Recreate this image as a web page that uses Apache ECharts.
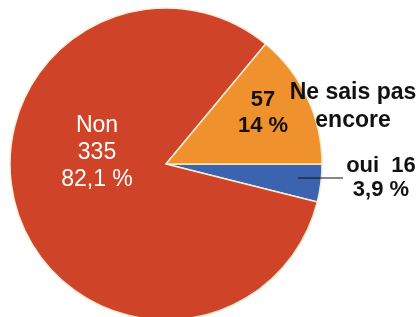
<!DOCTYPE html>
<html>
<head>
<meta charset="utf-8">
<script src="https://cdn.jsdelivr.net/npm/echarts@6/dist/echarts.min.js"></script>
<style>
  html, body { margin: 0; padding: 0; background: #fff; }
  #main { width: 418px; height: 317px; }
</style>
</head>
<body>
<div id="main"></div>
<script>
// données
var categories = ['oui', 'Non', 'Ne sais pas\nencore'];
var values = [16, 335, 57];
var pctLabels = ['3,9 %', '82,1 %', '14 %'];
var colors = ['#3C63AF', '#CF4428', '#EF922D'];

var myChart = echarts.init(document.getElementById('main'));

var labelPos = [
  { x: 381, y: 178 },
  { x: 97, y: 153 },
  { x: 263, y: 113 }
];

var option = {
  animation: false,
  // trait de rappel pour « oui »
  graphic: [{
    type: 'line',
    shape: { x1: 298, y1: 178, x2: 343, y2: 178 },
    style: { stroke: '#111', lineWidth: 1.2 },
    z: 10
  }],
  series: [
    {
      type: 'pie',
      center: [166, 164],
      radius: 156,
      startAngle: 0,
      clockwise: true,
      itemStyle: { borderColor: '#F4EBD3', borderWidth: 1.5 },
      label: {
        fontFamily: 'Liberation Sans',
        overflow: 'none'
      },
      labelLine: { show: false },
      labelLayout: function (params) {
        var p = labelPos[params.dataIndex];
        return { x: p.x, y: p.y, align: 'center', verticalAlign: 'middle' };
      },
      data: [
        {
          value: values[0], name: categories[0],
          itemStyle: { color: colors[0] },
          label: {
            position: 'inside', color: '#111', fontWeight: 'bold',
            fontSize: 22, lineHeight: 24,
            formatter: categories[0] + '  ' + values[0] + '\n' + pctLabels[0]
          }
        },
        {
          value: values[1], name: categories[1],
          itemStyle: { color: colors[1] },
          label: {
            position: 'inside', color: '#fff',
            fontSize: 23, lineHeight: 27,
            formatter: categories[1] + '\n' + values[1] + '\n' + pctLabels[1]
          }
        },
        {
          value: values[2], name: categories[2],
          itemStyle: { color: colors[2] },
          label: {
            position: 'inside', color: '#111', fontWeight: 'bold',
            fontSize: 22, lineHeight: 26,
            formatter: values[2] + '\n' + pctLabels[2]
          }
        }
      ]
    },
    {
      // seconde couche, uniquement pour le nom « Ne sais pas encore »
      type: 'pie',
      silent: true,
      center: [166, 164],
      radius: 156,
      startAngle: 0,
      itemStyle: { color: 'rgba(0,0,0,0)' },
      label: { show: false },
      labelLine: { show: false },
      labelLayout: function (params) {
        return { x: 353, y: 107, align: 'center', verticalAlign: 'middle' };
      },
      data: values.map(function (v, i) {
        return {
          value: v, name: categories[i],
          label: i === 2 ? {
            show: true, position: 'inside', color: '#111', fontWeight: 'bold',
            fontFamily: 'Liberation Sans', fontSize: 23, lineHeight: 28,
            overflow: 'none',
            formatter: '{b}'
          } : { show: false }
        };
      })
    }
  ]
};

myChart.setOption(option);
</script>
</body>
</html>
